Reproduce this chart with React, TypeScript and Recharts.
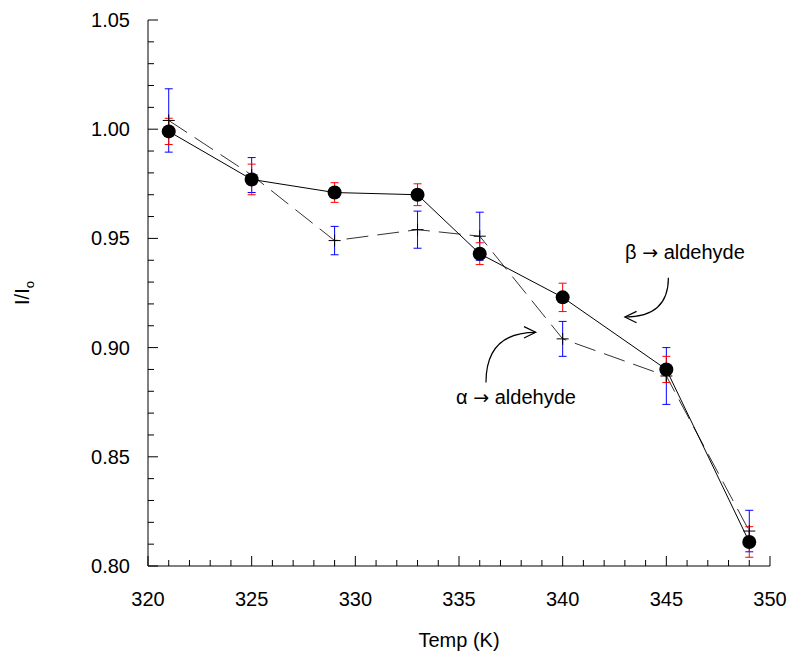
import {
  LineChart, Line, XAxis, YAxis, ErrorBar, ReferenceLine, ReferenceDot,
} from 'recharts';

// temperatures (K) and I/Io readings
const temps = [321, 325, 329, 333, 336, 340, 345, 349];
const betaValues = [0.999, 0.977, 0.971, 0.970, 0.943, 0.923, 0.890, 0.811];
const betaErrors = [0.006, 0.007, 0.0045, 0.005, 0.005, 0.0065, 0.006, 0.007];
const alphaValues = [1.004, 0.979, 0.949, 0.954, 0.951, 0.904, 0.887, 0.816];
const alphaErrors = [0.0145, 0.008, 0.0065, 0.0085, 0.011, 0.008, 0.013, 0.0095];

const xMajorTicks = [320, 325, 330, 335, 340, 345, 350];
const yMajorTicks = [0.80, 0.85, 0.90, 0.95, 1.00, 1.05];
// minor ticks every 1 K and every 0.01
const xTicks = Array.from({ length: 31 }, (_, i) => 320 + i);
const yTicks = Array.from({ length: 26 }, (_, i) => +(0.8 + i * 0.01).toFixed(2));

// annotations: [start, tip] of each arrow, label centre
const betaArrow = [{ x: 345.1, y: 0.932 }, { x: 343.0, y: 0.914 }];
const alphaArrow = [{ x: 336.3, y: 0.884 }, { x: 338.7, y: 0.907 }];
const betaLabel = { x: 345.9, y: 0.9438, greek: 'β', text: 'aldehyde' };
const alphaLabel = { x: 337.75, y: 0.8774, greek: 'α', text: 'aldehyde' };

const FONT = '"Liberation Sans", Arial, sans-serif';

const data = temps.map((t, i) => ({
  temp: t,
  beta: betaValues[i],
  betaErr: betaErrors[i],
  alpha: alphaValues[i],
  alphaErr: alphaErrors[i],
}));

const isMajor = (list: number[], v: number) => list.some(t => Math.abs(t - v) < 1e-6);

const YTick = ({ x, y, payload }: any) => {
  const major = isMajor(yMajorTicks, payload.value);
  return (
    <g>
      <line x1={x} x2={x + (major ? 10 : 6)} y1={y} y2={y} stroke="#000" />
      {major && (
        <text x={x - 18} y={y} textAnchor="end" dominantBaseline="central"
          fontFamily={FONT} fontSize={20} fill="#000">
          {payload.value.toFixed(2)}
        </text>
      )}
    </g>
  );
};

const XTick = ({ x, y, payload }: any) => {
  const major = isMajor(xMajorTicks, payload.value);
  return (
    <g>
      <line x1={x} x2={x} y1={y} y2={y - (major ? 10 : 6)} stroke="#000" />
      {major && (
        <text x={x} y={y + 40} textAnchor="middle"
          fontFamily={FONT} fontSize={20} fill="#000">
          {payload.value}
        </text>
      )}
    </g>
  );
};

const PlusDot = ({ cx, cy, index }: any) => {
  if (cx == null || cy == null) return null;
  return (
    <path key={`p${index}`} d={`M${cx - 6},${cy}H${cx + 6}M${cx},${cy - 6}V${cy + 6}`}
      stroke="#000" strokeWidth={1} fill="none" />
  );
};

// curved arrow: leaves the start along one axis, bends into the tip along the other
const CurvedArrow = ({ x1, y1, x2, y2 }: any) => {
  const cx = x1, cy = y2;
  const dx = x2 - cx, dy = y2 - cy;
  const len = Math.hypot(dx, dy) || 1;
  const ux = dx / len, uy = dy / len;
  const head = 13, ang = 0.45;
  const hx = (a: number) => x2 - head * (ux * Math.cos(a) - uy * Math.sin(a));
  const hy = (a: number) => y2 - head * (ux * Math.sin(a) + uy * Math.cos(a));
  return (
    <g fill="none" stroke="#000" strokeWidth={1.2}>
      <path d={`M${x1},${y1}Q${cx},${cy} ${x2},${y2}`} />
      <path d={`M${hx(ang)},${hy(ang)}L${x2},${y2}L${hx(-ang)},${hy(-ang)}`} />
    </g>
  );
};

const textShape = (greek: string, text: string) => ({ cx, cy }: any) => (
  <text x={cx} y={cy} textAnchor="middle" dominantBaseline="central"
    fontFamily={FONT} fontSize={20} fill="#000">
    {greek} <tspan fontFamily='"DejaVu Sans", sans-serif' fontSize={19}>→</tspan> {text}
  </text>
);

const YLabel = ({ viewBox }: any) => {
  const x = viewBox.x + 21;
  const y = viewBox.y + viewBox.height / 2;
  return (
    <text x={x} y={y} transform={`rotate(-90 ${x} ${y})`} textAnchor="middle"
      fontFamily={FONT} fontSize={20} fill="#000">
      I/I<tspan fontSize={13} dy={5}>o</tspan>
    </text>
  );
};

const XLabel = ({ viewBox }: any) => (
  <text x={viewBox.x + viewBox.width / 2} y={viewBox.y + 81} textAnchor="middle"
    fontFamily={FONT} fontSize={20} fill="#000">
    Temp (K)
  </text>
);

export default function App() {
  return (
    <LineChart width={792} height={659} data={data}
      margin={{ top: 12, right: 30, bottom: 0, left: 0 }}>
      <XAxis
        dataKey="temp" type="number" domain={[320, 350]} ticks={xTicks} interval={0}
        allowDataOverflow height={101}
        tickSize={0} tickMargin={0} tickLine={false}
        axisLine={{ stroke: '#000' }} tick={<XTick />}
        label={XLabel}
      />
      <YAxis
        type="number" domain={[0.8, 1.05]} ticks={yTicks} interval={0}
        allowDataOverflow width={140}
        tickSize={0} tickMargin={0} tickLine={false}
        axisLine={{ stroke: '#000' }} tick={<YTick />}
        label={YLabel}
      />
      <Line
        dataKey="alpha" stroke="#333" strokeWidth={1} strokeDasharray="22 9"
        dot={PlusDot} activeDot={false} isAnimationActive={false}
      >
        <ErrorBar dataKey="alphaErr" direction="y" width={4} stroke="#0000ff" strokeWidth={1} />
      </Line>
      <Line
        dataKey="beta" stroke="#000" strokeWidth={1}
        dot={{ r: 7, fill: '#000', stroke: '#000', strokeWidth: 0 }}
        activeDot={false} isAnimationActive={false}
      >
        <ErrorBar dataKey="betaErr" direction="y" width={4} stroke="#ff0000" strokeWidth={1} />
      </Line>
      <ReferenceLine segment={betaArrow} shape={CurvedArrow} ifOverflow="visible" />
      <ReferenceLine segment={alphaArrow} shape={CurvedArrow} ifOverflow="visible" />
      <ReferenceDot x={betaLabel.x} y={betaLabel.y} r={0}
        shape={textShape(betaLabel.greek, betaLabel.text)} />
      <ReferenceDot x={alphaLabel.x} y={alphaLabel.y} r={0}
        shape={textShape(alphaLabel.greek, alphaLabel.text)} />
    </LineChart>
  );
}
